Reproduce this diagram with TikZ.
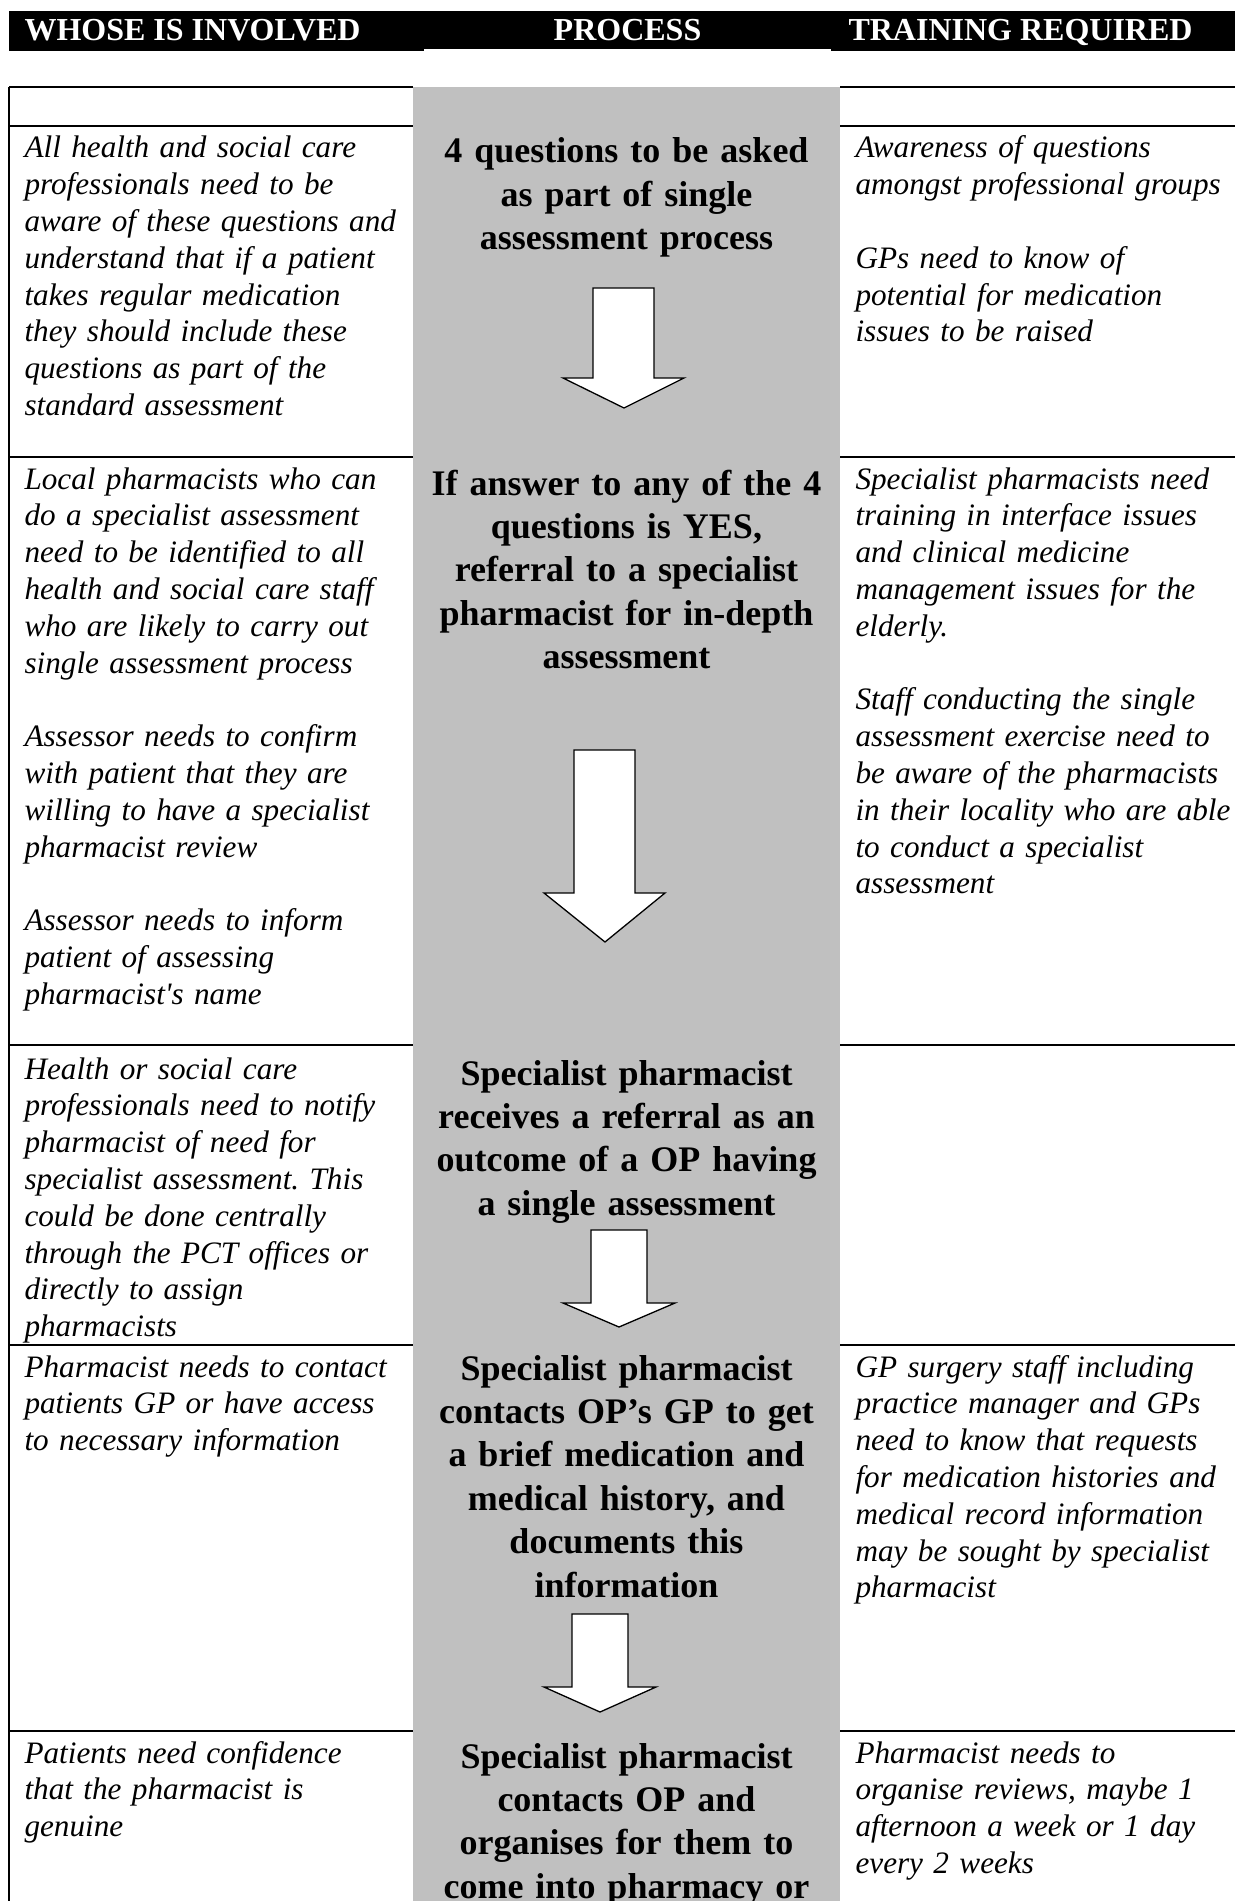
\documentclass[tikz,border=0pt]{standalone}
\usepackage{fontspec}
\setmainfont{Liberation Serif}
\definecolor{colgray}{RGB}{192,192,192}
\newlength\upx
\setlength\upx{0.375pt}
\tikzset{
  hdr/.style={text=white, font={\bfseries\fontsize{12}{13.8}\selectfont}, inner sep=0pt},
  side/.style={font={\frenchspacing\itshape\fontsize{11.7}{13.8}\selectfont}, align=left, text width=400\upx, inner sep=0pt, anchor=base west},
  proc/.style={font={\frenchspacing\bfseries\fontsize{13.5}{16.3}\selectfont}, align=center, text width=440\upx, inner sep=0pt, anchor=base},
  tablerule/.style={line width=2\upx, black},
  blockarrow/.style={fill=white, draw=black, line width=1.3\upx, line join=miter},
}
\begin{document}
\begin{tikzpicture}[x={(0.375pt,0)}, y={(0,-0.375pt)}]
\useasboundingbox (0,0) rectangle (1235,1901);
\fill[white] (0,0) rectangle (1235,1901);
% header
\fill[black] (9,11) rectangle (424,51);
\fill[black] (424,11) rectangle (831,49);
\fill[black] (831,11) rectangle (1235,51);
\node[hdr, anchor=base west] (h1) at (24,41) {WHOSE IS INVOLVED};
\node[hdr, anchor=base] (h2) at (627.5,41) {PROCESS};
\node[hdr, anchor=base west] (h3) at (848,41) {TRAINING REQUIRED};
% gray process column
\fill[colgray] (413,87) rectangle (840,1901);
% table rules
\foreach \yy in {87,126,457,1045,1345,1731}{
  \draw[tablerule] (9,\yy) -- (413,\yy);
  \draw[tablerule] (840,\yy) -- (1235,\yy);
}
\draw[tablerule] (9,87) -- (9,1901);
% left column
\node[side] (l1) at (24,158) {All health and social care\\professionals need to be\\aware of these questions and\\understand that if a patient\\takes regular medication\\they should include these\\questions as part of the\\standard assessment};
\node[side] (l2) at (24,489) {Local pharmacists who can\\do a specialist assessment\\need to be identified to all\\health and social care staff\\who are likely to carry out\\single assessment process\\[13.8pt]Assessor needs to confirm\\with patient that they are\\willing to have a specialist\\pharmacist review\\[13.8pt]Assessor needs to inform\\patient of assessing\\pharmacist\textquotesingle s name};
\node[side] (l3) at (24,1079) {Health or social care\\professionals need to notify\\pharmacist of need for\\specialist assessment. This\\could be done centrally\\through the PCT offices or\\directly to assign\\pharmacists};
\node[side] (l4) at (24,1377) {Pharmacist needs to contact\\patients GP or have access\\to necessary information};
\node[side] (l5) at (24,1763) {Patients need confidence\\that the pharmacist is\\genuine};
% right column
\node[side] (r1) at (855,158) {Awareness of questions\\amongst professional groups\\[13.8pt]GPs need to know of\\potential for medication\\issues to be raised};
\node[side] (r2) at (855,489) {Specialist pharmacists need\\training in interface issues\\and clinical medicine\\management issues for the\\elderly.\\[13.8pt]Staff conducting the single\\assessment exercise need to\\be aware of the pharmacists\\in their locality who are able\\to conduct a specialist\\assessment};
\node[side] (r4) at (855,1377) {GP surgery staff including\\practice manager and GPs\\need to know that requests\\for medication histories and\\medical record information\\may be sought by specialist\\pharmacist};
\node[side] (r5) at (855,1763) {Pharmacist needs to\\organise reviews, maybe 1\\afternoon a week or 1 day\\every 2 weeks};
% process column
\node[proc] (p1) at (626.5,163) {4 questions to be asked\\as part of single\\assessment process};
\node[proc] (p2) at (626.5,495) {If answer to any of the 4\\questions is YES,\\referral to a specialist\\pharmacist for in-depth\\assessment};
\node[proc] (p3) at (626.5,1085) {Specialist pharmacist\\receives a referral as an\\outcome of a OP having\\a single assessment};
\node[proc] (p4) at (626.5,1380) {Specialist pharmacist\\contacts OP’s GP to get\\a brief medication and\\medical history, and\\documents this\\information};
\node[proc] (p5) at (626.5,1768) {Specialist pharmacist\\contacts OP and\\organises for them to\\come into pharmacy or};
% block arrows
\draw[blockarrow] (593,288) -- (654,288) -- (654,378) -- (684,378) -- (624,408) -- (563,378) -- (593,378) -- cycle;
\draw[blockarrow] (574,750) -- (635,750) -- (635,893) -- (665,893) -- (605,942) -- (544,893) -- (574,893) -- cycle;
\draw[blockarrow] (591,1230) -- (647,1230) -- (647,1303) -- (675,1303) -- (619,1327) -- (563,1303) -- (591,1303) -- cycle;
\draw[blockarrow] (572,1614) -- (628,1614) -- (628,1687) -- (656,1687) -- (600,1712) -- (544,1687) -- (572,1687) -- cycle;
\end{tikzpicture}
\end{document}
